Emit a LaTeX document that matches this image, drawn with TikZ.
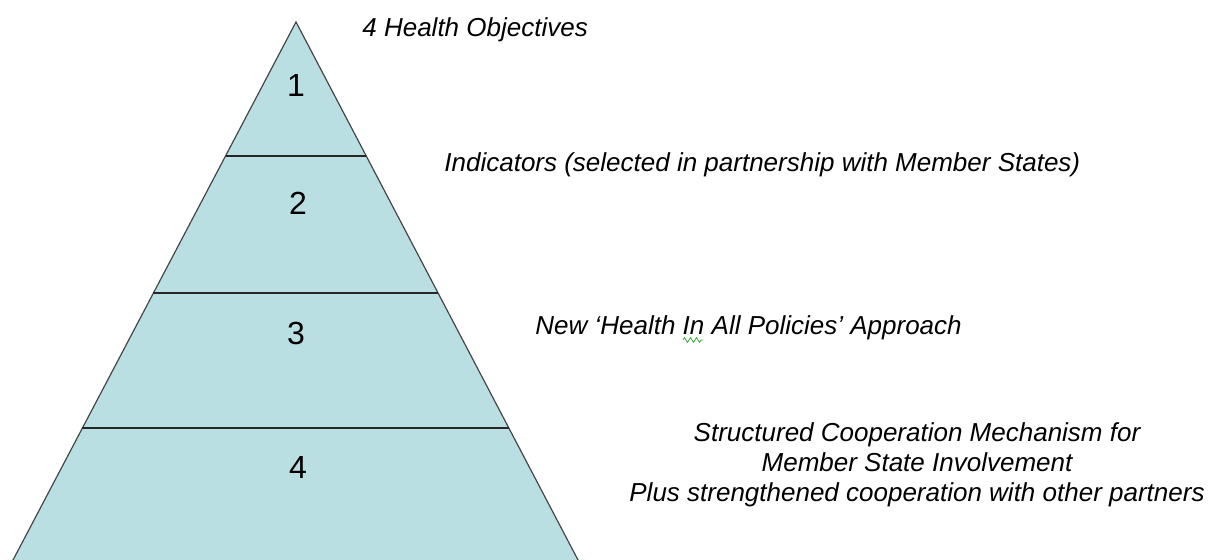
\documentclass[tikz,border=0pt]{standalone}
\usepackage{fontspec}
\setmainfont{Liberation Sans}
\usepackage{xcolor}
\usetikzlibrary{positioning,calc,decorations.pathmorphing}
\definecolor{tierfill}{RGB}{186,223,226}
\definecolor{edgegray}{RGB}{70,70,70}
\definecolor{spellgreen}{RGB}{60,170,60}

\begin{document}
\begin{tikzpicture}[x=0.5pt,y=-0.5pt,
    side/.style={draw=edgegray,line width=0.6pt},
    tierline/.style={draw=black!85,line width=1pt},
    tiernum/.style={font=\fontsize{16}{18}\selectfont,inner sep=0pt},
    tierlabel/.style={font=\fontsize{13}{15}\selectfont\itshape,inner sep=0pt}]
  \useasboundingbox (0,0) rectangle (1210,560);
  \clip (0,0) rectangle (1210,560);
  \coordinate (apex) at (296,22);
  \coordinate (baseL) at (2.5,580);
  \coordinate (baseR) at (588.5,580);
  \fill[tierfill] (apex)--(baseR)--(baseL)--cycle;
  \draw[side] (baseL)--(apex)--(baseR);
  \foreach \ly in {156,293,428}
    \draw[tierline] ($(apex)!{(\ly-22)/558}!(baseL)$)--($(apex)!{(\ly-22)/558}!(baseR)$);
  \node[tiernum] (n1) at (296,85) {1};
  \node[tiernum] (n2) at (298,203) {2};
  \node[tiernum] (n3) at (296,333) {3};
  \node[tiernum] (n4) at (298,467) {4};
  \node[tierlabel,anchor=base west] (objectives) at (362,37) {4 Health Objectives};
  \node[tierlabel,anchor=base west] (indicators) at (444,172) {Indicators (selected in partnership with Member States)};
  \node[tierlabel,anchor=base west] (approach) at (535,335) {New ‘Health In All Policies’ Approach};
  \draw[spellgreen,line width=0.4pt,decorate,decoration={zigzag,amplitude=1.2pt,segment length=3pt}] (683,340)--(703,340);
  \node[tierlabel,anchor=base,align=center] (mechanism) at (917,502) {Structured Cooperation Mechanism for\\Member State Involvement\\Plus strengthened cooperation with other partners};
\end{tikzpicture}
\end{document}
